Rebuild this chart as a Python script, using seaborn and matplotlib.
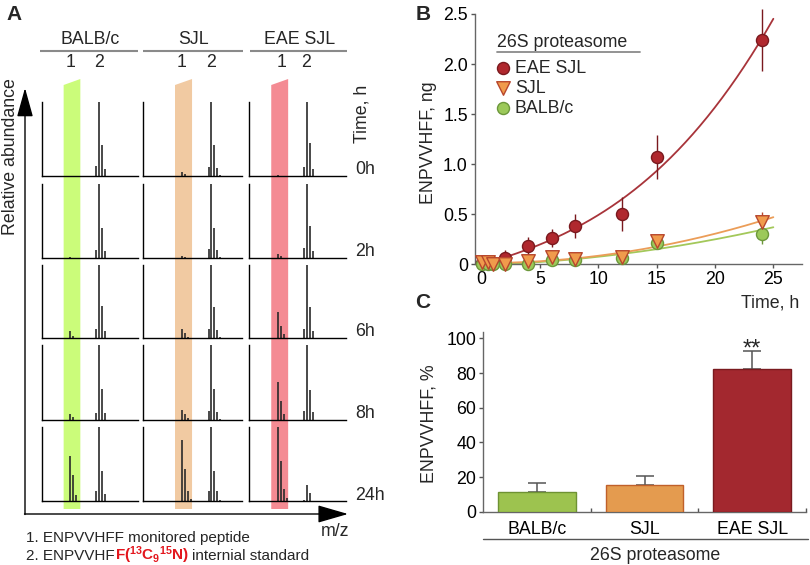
import numpy as np
import pandas as pd
import matplotlib
matplotlib.use("Agg")
import matplotlib.pyplot as plt
from matplotlib.patches import Polygon
import seaborn as sns

# ---------------- data ----------------
groups = ["BALB/c", "SJL", "EAE SJL"]
time_labels = ["0h", "2h", "6h", "8h", "24h"]
mz_peptide = 988.5            # monitored peptide (1)
mz_standard = 998.5           # internal standard (2)
pep_offsets = [0, 1, 2, 3]
std_offsets = [-1, 0, 1, 2, 3]

# relative heights of isotope peaks, rows = time points
pep_balb = [[0.00, 0.00, 0.00, 0.00], [0.01, 0.00, 0.00, 0.00], [0.10, 0.03, 0.00, 0.00],
            [0.085, 0.04, 0.00, 0.00], [0.61, 0.35, 0.08, 0.00]]
std_balb = [[0.14, 1.0, 0.42, 0.10, 0.00], [0.11, 1.0, 0.41, 0.09, 0.00], [0.13, 1.0, 0.44, 0.10, 0.00],
            [0.10, 1.0, 0.41, 0.10, 0.00], [0.13, 1.0, 0.40, 0.09, 0.00]]
pep_sjl = [[0.05, 0.03, 0.00, 0.00], [0.03, 0.02, 0.00, 0.00], [0.12, 0.07, 0.02, 0.00],
           [0.14, 0.08, 0.03, 0.00], [0.82, 0.43, 0.13, 0.03]]
std_sjl = [[0.12, 1.0, 0.42, 0.11, 0.02], [0.12, 1.0, 0.41, 0.11, 0.02], [0.12, 1.0, 0.42, 0.11, 0.02],
           [0.125, 1.0, 0.41, 0.11, 0.02], [0.13, 1.0, 0.40, 0.13, 0.02]]
pep_eae = [[0.02, 0.00, 0.00, 0.00], [0.06, 0.03, 0.00, 0.00], [0.36, 0.17, 0.05, 0.00],
           [0.51, 0.25, 0.08, 0.00], [1.0, 0.54, 0.16, 0.04]]
std_eae = [[0.12, 1.0, 0.44, 0.10, 0.00], [0.13, 1.0, 0.43, 0.10, 0.00], [0.13, 1.0, 0.42, 0.10, 0.00],
           [0.12, 1.0, 0.40, 0.11, 0.00], [0.02, 0.22, 0.11, 0.00, 0.00]]
spectra_xlim = [(978.8, 1011.6), (975.7, 1008.7), (978.8, 1011.4)]

# panel B: time course (ng)
time_h = [0, 0.5, 1, 2, 4, 6, 8, 12, 15, 24]
eae_ng = [0.01, 0.02, 0.01, 0.06, 0.18, 0.26, 0.38, 0.50, 1.07, 2.24]
eae_err = [0, 0, 0, 0.08, 0.09, 0.09, 0.12, 0.17, 0.22, 0.31]
sjl_ng = [0.02, 0.02, 0.00, 0.00, 0.03, 0.07, 0.05, 0.07, 0.23, 0.42]
sjl_err = [0, 0, 0, 0, 0.02, 0.03, 0.02, 0.03, 0.06, 0.10]
balb_ng = [0.00, 0.00, 0.00, 0.00, 0.00, 0.04, 0.04, 0.06, 0.21, 0.30]
balb_err = [0, 0, 0, 0, 0, 0.02, 0.02, 0.02, 0.05, 0.10]

# panel C: bars (%)
bar_groups = ["BALB/c", "SJL", "EAE SJL"]
bar_pct = [11.3, 15.4, 82.5]
bar_err = [5.0, 5.4, 10.4]

# ---------------- style ----------------
sns.set_style("white")
plt.rcParams["font.family"] = ["Liberation Sans", "DejaVu Sans"]
plt.rcParams["mathtext.fontset"] = "custom"
plt.rcParams["mathtext.rm"] = "Liberation Sans"
plt.rcParams["mathtext.bf"] = "Liberation Sans:bold"
plt.rcParams["mathtext.it"] = "Liberation Sans:italic"

W, H = 810, 565
fig = plt.figure(figsize=(W / 100, H / 100), dpi=100)
FS = 12.8


def px_axes(l, t, r, b):
    return fig.add_axes([l / W, 1 - b / H, (r - l) / W, (b - t) / H])


ov = fig.add_axes([0, 0, 1, 1])
ov.set_xlim(0, W)
ov.set_ylim(H, 0)
ov.axis("off")
ov.set_zorder(0)

# ---------------- panel A ----------------
col_px = [(41.7, 137.7), (143.3, 242.0), (249.0, 345.7)]
row_px = [(102, 176), (184, 258), (265, 338), (345, 420), (427, 501)]
pep_all = [pep_balb, pep_sjl, pep_eae]
std_all = [std_balb, std_sjl, std_eae]
band_colors = ["#cbfc7a", "#f1caa2", "#f48b93"]
peak_color = "#2a2a2a"

last_axes = []
for gi in range(3):
    for ri in range(5):
        ax = px_axes(col_px[gi][0], row_px[ri][0], col_px[gi][1], row_px[ri][1])
        ax.set_facecolor("none")
        ax.vlines([mz_peptide + o for o in pep_offsets], 0, pep_all[gi][ri], color=peak_color, lw=1.2)
        ax.vlines([mz_standard + o for o in std_offsets], 0, std_all[gi][ri], color=peak_color, lw=1.2)
        ax.set_xlim(*spectra_xlim[gi])
        ax.set_ylim(0, 1.0)
        ax.set_xticks([])
        ax.set_yticks([])
        for s in ["top", "right"]:
            ax.spines[s].set_visible(False)
        for s in ["left", "bottom"]:
            ax.spines[s].set_color("black")
            ax.spines[s].set_linewidth(1.0)
        if ri == 4:
            last_axes.append(ax)

# highlight bands at the monitored peptide
for gi, ax in enumerate(last_axes):
    xl = ax.transData.transform((mz_peptide - 2.2, 0))[0]
    xr = ax.transData.transform((mz_peptide + 3.5, 0))[0]
    ov.add_patch(Polygon([(xl, 85), (xr, 79), (xr, 509), (xl, 509)], closed=True,
                         facecolor=band_colors[gi], edgecolor="none", zorder=0))

# headers
head_lines = [(40, 137.7), (143.3, 242.7), (250, 346.7)]
for gi, g in enumerate(groups):
    a, b = head_lines[gi]
    ov.plot([a, b], [51, 51], color="#8a8a8a", lw=1.5, solid_capstyle="butt")
    ov.text((a + b) / 2 + 1, 40, g, ha="center", va="center", fontsize=FS)
for x1, x2 in [(71, 99), (182, 211), (282, 306)]:
    ov.text(x1, 62.5, "1", ha="center", va="center", fontsize=FS)
    ov.text(x2, 62.5, "2", ha="center", va="center", fontsize=FS)

for ri, lab in enumerate(time_labels):
    ov.text(355, row_px[ri][1] - 1.5, lab, ha="left", va="baseline", fontsize=FS)
ov.text(362, 114, "Time, h", rotation=90, ha="center", va="center", fontsize=FS)

# axes arrows
ov.annotate("", xy=(25, 88), xytext=(25, 514.5),
            arrowprops=dict(arrowstyle="-|>,head_length=1.8,head_width=0.5", color="black",
                            lw=1.0, shrinkA=0, shrinkB=0, mutation_scale=10))
ov.annotate("", xy=(348, 514), xytext=(24.5, 514),
            arrowprops=dict(arrowstyle="-|>,head_length=1.9,head_width=0.55", color="black",
                            lw=1.0, shrinkA=0, shrinkB=0, mutation_scale=10))
ov.text(11, 157, "Relative abundance", rotation=90, ha="center", va="center", fontsize=FS)
ov.text(335, 532, "m/z", ha="center", va="center", fontsize=FS)

ov.text(14, 15, "A", ha="center", va="center", fontsize=15, fontweight="bold")
ov.text(423, 15, "B", ha="center", va="center", fontsize=15, fontweight="bold")
ov.text(423, 303, "C", ha="center", va="center", fontsize=15, fontweight="bold")

# footnotes
FN = 11
ov.text(26, 542, "1. ENPVVHFF monitored peptide", ha="left", va="baseline", fontsize=FN)
renderer = fig.canvas.get_renderer()
t1 = ov.text(26, 559.5, "2. ENPVVHF", ha="left", va="baseline", fontsize=FN)
x_next = t1.get_window_extent(renderer).x1
t2 = ov.text(x_next, 559.5, r"$\mathbf{F(}^{\mathbf{13}}\mathbf{C}_{\mathbf{9}}{}^{\mathbf{15}}\mathbf{N)}$",
             ha="left", va="baseline", fontsize=FN, color="#e3161d")
x_next = t2.get_window_extent(renderer).x1
ov.text(x_next + 3, 559.5, "internial standard", ha="left", va="baseline", fontsize=FN)

# ---------------- panel B ----------------
axB = px_axes(474.7, 14, 801.7, 264.3)
axB.set_facecolor("none")
grid = np.linspace(0, 25, 200)
series = [
    ("EAE SJL", eae_ng, eae_err, "o", 75, "#b0282e", "#7a191e", "#a8343a", 3),
    ("BALB/c", balb_ng, balb_err, "o", 75, "#9cc95a", "#6c973b", "#a3c85a", 2),
    ("SJL", sjl_ng, sjl_err, "v", 95, "#f09b4c", "#b8472d", "#eb9d58", 2),
]
for name, yv, ev, mk, sz, fill, edge, line, deg in series:
    # error-weighted polynomial fit of the measured points
    w = 1.0 / np.maximum(np.asarray(ev, float), 0.05)
    coef = np.polyfit(time_h, yv, deg, w=w)
    sns.lineplot(x=grid, y=np.polyval(coef, grid), color=line, lw=1.3, ax=axB, zorder=2)
for name, yv, ev, mk, sz, fill, edge, line, deg in series:
    axB.errorbar(time_h, yv, yerr=ev, fmt="none", ecolor=edge, elinewidth=1.0, capsize=0,
                 zorder=3, clip_on=False)
    sns.scatterplot(x=time_h, y=yv, marker=mk, s=sz, color=fill, edgecolor=edge, linewidth=1.0,
                    ax=axB, zorder=4, clip_on=False)
axB.set_xlim(-0.6, 27.43)
axB.set_ylim(0, 2.5)
axB.set_xticks([0, 5, 10, 15, 20, 25])
axB.set_yticks([0, 0.5, 1.0, 1.5, 2.0, 2.5])
axB.set_yticklabels(["0", "0.5", "1.0", "1.5", "2.0", "2.5"])
axB.tick_params(direction="out", length=3, width=1, colors="#555555", labelcolor="black",
                labelsize=FS, pad=2, left=True, bottom=True)
for s in ["top", "right"]:
    axB.spines[s].set_visible(False)
for s in ["left", "bottom"]:
    axB.spines[s].set_color("#666666")
    axB.spines[s].set_linewidth(1.0)
axB.set_xlabel("")
axB.set_ylabel("")
ov.text(428.5, 143, "ENPVVHFF, ng", rotation=90, ha="center", va="center", fontsize=FS)
ov.text(770.5, 303, "Time, h", ha="center", va="center", fontsize=FS)

# manual legend
ov.text(497, 42.5, "26S proteasome", ha="left", va="center", fontsize=FS)
ov.plot([497, 640], [52.3, 52.3], color="#8a8a8a", lw=1.3)
leg = [("EAE SJL", "o", 75, "#b0282e", "#7a191e"),
       ("SJL", "v", 95, "#f09b4c", "#b8472d"),
       ("BALB/c", "o", 75, "#9cc95a", "#6c973b")]
for i, (lab, mk, sz, fill, edge) in enumerate(leg):
    yy = 68.3 + 20 * i
    ov.scatter([503.3], [yy], marker=mk, s=sz, color=fill, edgecolors=edge, linewidths=1.0, zorder=5)
    ov.text(515, yy, lab, ha="left", va="center", fontsize=FS)

# ---------------- panel C ----------------
axC = px_axes(483.3, 332.1, 806, 511.7)
axC.set_facecolor("none")
dfC = pd.DataFrame({"group": bar_groups, "pct": bar_pct})
bar_fill = ["#9dc34f", "#e49b4f", "#a3282f"]
bar_edge = ["#6e9233", "#c0602a", "#7a1a1f"]
sns.barplot(data=dfC, x="group", y="pct", hue="group", palette=bar_fill, width=0.72,
            saturation=1, legend=False, ax=axC, zorder=3)
for p, ec in zip(axC.patches, bar_edge):
    p.set_edgecolor(ec)
    p.set_linewidth(1.0)
axC.errorbar(range(3), bar_pct, yerr=[[0, 0, 0], bar_err], fmt="none", ecolor="#555555",
             elinewidth=1.1, capsize=6.5, capthick=1.1, zorder=2)
axC.text(2, bar_pct[2] + bar_err[2] - 3.0, "**", ha="center", va="baseline", fontsize=17)
axC.set_xlim(-0.5, 2.5)
axC.set_ylim(0, 103.6)
axC.set_yticks([0, 20, 40, 60, 80, 100])
axC.set_xticks([0, 1, 2])
axC.set_xticks([0.5, 1.5, 2.5], minor=True)
axC.tick_params(axis="y", direction="out", length=3, width=1, colors="#555555", labelcolor="black",
                labelsize=FS, pad=2, left=True)
axC.tick_params(axis="x", which="major", length=0, labelsize=FS, pad=7, labelcolor="black")
axC.tick_params(axis="x", which="minor", direction="in", length=3, width=1, colors="#555555", bottom=True)
for s in ["top", "right"]:
    axC.spines[s].set_visible(False)
for s in ["left", "bottom"]:
    axC.spines[s].set_color("#666666")
    axC.spines[s].set_linewidth(1.0)
axC.set_xlabel("")
axC.set_ylabel("")
ov.text(428.5, 423.5, "ENPVVHFF, %", rotation=90, ha="center", va="center", fontsize=FS)
ov.plot([483.3, 808], [539.3, 539.3], color="#555555", lw=1.0)
ov.text(655, 555, "26S proteasome", ha="center", va="center", fontsize=FS)

fig.savefig("out.png", dpi=100)
